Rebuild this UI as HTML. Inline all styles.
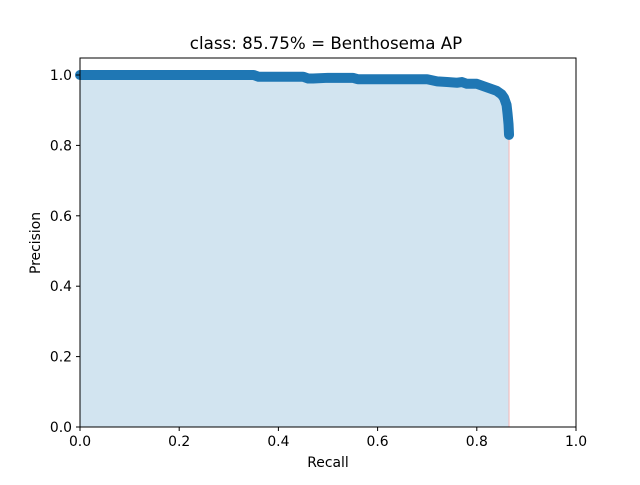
<!DOCTYPE html>
<html><head><meta charset="utf-8"><style>
body{margin:0;background:#fff;}
svg text{font-family:"DejaVu Sans","Liberation Sans",sans-serif;fill:#000;}
</style></head><body>
<svg id="c" width="640" height="480" xmlns="http://www.w3.org/2000/svg">
<rect width="640" height="480" fill="#fff"/>
<text x="326" y="49" font-size="16.7" text-anchor="middle">class: 85.75% = Benthosema AP</text>
<g id="plot"></g>
<rect x="80" y="58" width="496" height="369" fill="none" stroke="#000" stroke-width="1"/>
<g id="axes"></g>
<text x="328" y="467" font-size="13.9" text-anchor="middle">Recall</text>
<text transform="translate(40,243) rotate(-90)" font-size="13.9" text-anchor="middle">Precision</text>
</svg>
<script>
const recall=[0,0.05,0.1,0.2,0.3,0.35,0.36,0.4,0.45,0.46,0.47,0.5,0.55,0.56,0.6,0.65,0.7,0.72,0.74,0.76,0.77,0.78,0.8,0.81,0.82,0.83,0.84,0.85,0.855,0.86,0.862,0.864,0.865];
const precision=[1,1,1,1,1,1,0.995,0.995,0.995,0.99,0.99,0.992,0.992,0.988,0.988,0.988,0.988,0.982,0.98,0.978,0.98,0.975,0.975,0.97,0.965,0.96,0.955,0.945,0.935,0.915,0.89,0.86,0.83];
const xTicks=[0,0.2,0.4,0.6,0.8,1.0];
const xTickLabels=["0.0","0.2","0.4","0.6","0.8","1.0"];
const yTicks=[0,0.2,0.4,0.6,0.8,1.0];
const yTickLabels=["0.0","0.2","0.4","0.6","0.8","1.0"];
const X=v=>80+v*496, Y=v=>427-v*352;
const NS="http://www.w3.org/2000/svg";
const plot=document.getElementById('plot'), axes=document.getElementById('axes');
function mk(tag,attrs,parent){const e=document.createElementNS(NS,tag);for(const k in attrs)e.setAttribute(k,attrs[k]);parent.appendChild(e);return e;}
let pts=recall.map((r,i)=>X(r)+','+Y(precision[i])).join(' ');
const last=recall[recall.length-1];
const fill=mk('polygon',{points:X(0)+','+Y(0)+' '+pts+' '+X(last)+','+Y(0),fill:'#1f77b4','fill-opacity':0.2},plot);


const vl=mk('line',{x1:X(last),y1:Y(precision[precision.length-1]),x2:X(last),y2:Y(0),stroke:'#f4b6b6','stroke-width':1},plot);


const hl=mk('line',{x1:X(last),y1:Y(0),x2:X(1),y2:Y(0),stroke:'#d62728','stroke-width':1},plot);


const line=mk('polyline',{points:pts,fill:'none',stroke:'#1f77b4','stroke-width':10,'stroke-linecap':'round','stroke-linejoin':'round'},plot);


xTicks.forEach((t,i)=>{
 const tk=mk('line',{x1:X(t),x2:X(t),y1:427,y2:431,stroke:'#000'},axes);
 
 
 const tx=mk('text',{x:X(t),y:446,'font-size':13.9,'text-anchor':'middle'},axes);
 tx.textContent=xTickLabels[i];
 
 
});
yTicks.forEach((t,i)=>{
 const tk=mk('line',{x1:76,x2:80,y1:Y(t),y2:Y(t),stroke:'#000'},axes);
 
 
 const tx=mk('text',{x:72,y:Y(t)+5,'font-size':13.9,'text-anchor':'end'},axes);
 tx.textContent=yTickLabels[i];
 
 
});
</script>
</body></html>
